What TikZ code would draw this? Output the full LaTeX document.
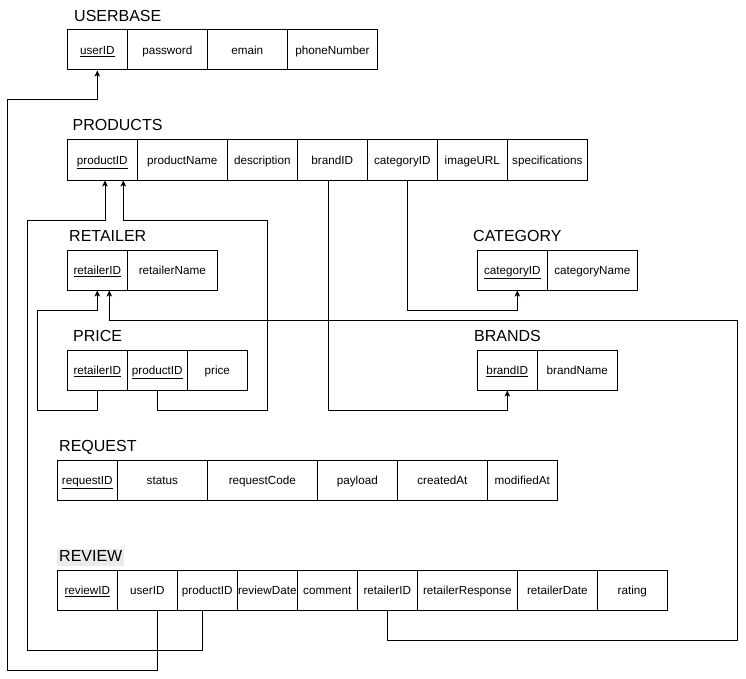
\documentclass[tikz,border=0pt]{standalone}
\usepackage{fontspec}
\setmainfont{Liberation Sans}
\usetikzlibrary{arrows.meta,calc}
\begin{document}
\begin{tikzpicture}[x=1pt,y=-1pt,
  cell/.style={draw,line width=1pt,minimum height=40pt,inner sep=0pt,
    text height=10.5pt,text depth=1.5pt,font=\fontsize{11.7}{14}\selectfont},
  tabletitle/.style={anchor=base west,inner xsep=2pt,inner ysep=1pt,
    text height=12pt,text depth=3pt,font=\fontsize{16}{19}\selectfont},
  fk/.style={draw,line width=1pt,-{Stealth[length=6pt,width=5.5pt,inset=1.5pt]}}]
\useasboundingbox (0,0) rectangle (746,679);

% USERBASE
\node[tabletitle] (tub) at (72,22) {USERBASE};
\node[cell,minimum width=60pt] (ub1) at (97.3,50) {\underline{userID}};
\node[cell,minimum width=80pt] (ub2) at (167.3,50) {password};
\node[cell,minimum width=80pt] (ub3) at (247.3,50) {emain};
\node[cell,minimum width=90.4pt] (ub4) at (332.5,50) {phoneNumber};

% PRODUCTS
\node[tabletitle] (tpr) at (70.5,131) {PRODUCTS};
\node[cell,minimum width=70pt] (pr1) at (102.3,160) {\underline{productID}};
\node[cell,minimum width=90pt] (pr2) at (182.3,160) {productName};
\node[cell,minimum width=70pt] (pr3) at (262.3,160) {description};
\node[cell,minimum width=70pt] (pr4) at (332.3,160) {brandID};
\node[cell,minimum width=70pt] (pr5) at (402.3,160) {categoryID};
\node[cell,minimum width=70pt] (pr6) at (472.3,160) {imageURL};
\node[cell,minimum width=80pt] (pr7) at (547.3,160) {specifications};

% RETAILER
\node[tabletitle] (trt) at (67,241) {RETAILER};
\node[cell,minimum width=60pt] (rt1) at (97.3,270) {\underline{retailerID}};
\node[cell,minimum width=90pt] (rt2) at (172.3,270) {retailerName};

% CATEGORY
\node[tabletitle] (tct) at (471,241.5) {CATEGORY};
\node[cell,minimum width=70pt] (ct1) at (512.3,270) {\underline{categoryID}};
\node[cell,minimum width=90pt] (ct2) at (592.3,270) {categoryName};

% PRICE
\node[tabletitle] (tpc) at (71,341) {PRICE};
\node[cell,minimum width=60pt] (pc1) at (97.3,370) {\underline{retailerID}};
\node[cell,minimum width=60pt] (pc2) at (157.3,370) {\underline{productID}};
\node[cell,minimum width=60pt] (pc3) at (217.3,370) {price};

% BRANDS
\node[tabletitle] (tbr) at (472,341) {BRANDS};
\node[cell,minimum width=60pt] (br1) at (507.3,370) {\underline{brandID}};
\node[cell,minimum width=80pt] (br2) at (577.3,370) {brandName};

% REQUEST
\node[tabletitle] (trq) at (57,451.7) {REQUEST};
\node[cell,minimum width=60pt] (rq1) at (87.3,480) {\underline{requestID}};
\node[cell,minimum width=90pt] (rq2) at (162.3,480) {status};
\node[cell,minimum width=110pt] (rq3) at (262.3,480) {requestCode};
\node[cell,minimum width=80pt] (rq4) at (357.3,480) {payload};
\node[cell,minimum width=90pt] (rq5) at (442.3,480) {createdAt};
\node[cell,minimum width=70pt] (rq6) at (522.3,480) {modifiedAt};

% REVIEW
\node[tabletitle,fill=black!8] (trv) at (57,561.7) {REVIEW};
\node[cell,minimum width=60pt] (rv1) at (87.3,590) {\underline{reviewID}};
\node[cell,minimum width=60pt] (rv2) at (147.3,590) {userID};
\node[cell,minimum width=60pt] (rv3) at (207.3,590) {productID};
\node[cell,minimum width=60pt] (rv4) at (267.3,590) {reviewDate};
\node[cell,minimum width=60pt] (rv5) at (327.3,590) {comment};
\node[cell,minimum width=60pt] (rv6) at (387.3,590) {retailerID};
\node[cell,minimum width=100pt] (rv7) at (467.3,590) {retailerResponse};
\node[cell,minimum width=80pt] (rv8) at (557.3,590) {retailerDate};
\node[cell,minimum width=70pt] (rv9) at (632.3,590) {rating};
% redraw borders over overflowing text
\draw[line width=1pt] (rv4.north east) -- (rv4.south east);

% connectors
\draw[fk] ([xshift=10pt]rv2.south) |- (7.3,670) -- (7.3,100) -| (ub1.south);
\draw[fk] ([xshift=-5pt]rv3.south) |- (27.3,650) -- (27.3,220) -| ([xshift=2.7pt]pr1.south);
\draw[fk] (pc2.south) |- (267.3,410) -- (267.3,220) -| ([xshift=21pt]pr1.south);
\draw[fk] (pc1.south) |- (37.3,410) -- (37.3,310) -| (rt1.south);
\draw[fk] (rv6.south) |- (737.7,640) -- (737.7,320) -| ([xshift=12pt]rt1.south);
\draw[fk] ([xshift=-4pt]pr4.south) |- (507.3,410) -- (br1.south);
\draw[fk] ([xshift=5pt]pr5.south) |- (517.3,310) -- ([xshift=5pt]ct1.south);
\end{tikzpicture}
\end{document}
